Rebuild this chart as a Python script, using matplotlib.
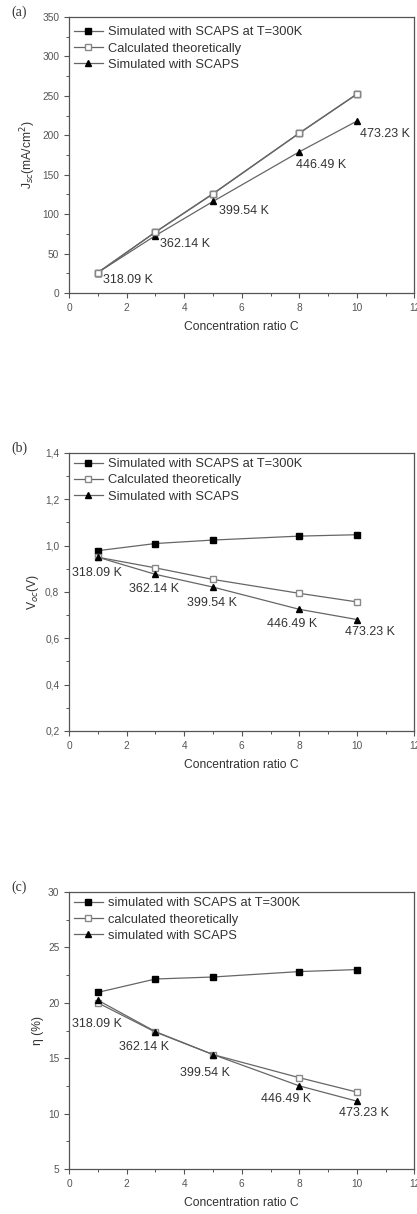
import matplotlib.pyplot as plt
from matplotlib.ticker import MultipleLocator, FuncFormatter

C = [1, 3, 5, 8, 10]
temps = ["318.09 K", "362.14 K", "399.54 K", "446.49 K", "473.23 K"]

jsc_300k = [25.8, 77.0, 125.5, 202.5, 252.0]
jsc_theory = [25.8, 77.3, 126.0, 202.9, 252.4]
jsc_scaps = [25.8, 72.7, 116.0, 179.0, 218.0]

voc_300k = [0.978, 1.009, 1.024, 1.041, 1.047]
voc_theory = [0.950, 0.904, 0.854, 0.794, 0.757]
voc_scaps = [0.950, 0.876, 0.821, 0.725, 0.681]

eta_300k = [20.94, 22.15, 22.33, 22.82, 23.0]
eta_theory = [20.0, 17.36, 15.33, 13.24, 11.94]
eta_scaps = [20.24, 17.4, 15.33, 12.5, 11.12]

# annotation anchor points (data coords, left edge of text)
jsc_text_xy = [(1.17, 16.9), (3.15, 62.6), (5.2, 104), (7.9, 162), (10.12, 202)]
voc_text_xy = [(0.09, 0.882), (2.1, 0.813), (4.1, 0.754), (6.86, 0.663), (9.58, 0.625)]
eta_text_xy = [(0.09, 18.06), (1.74, 16.03), (3.86, 13.7), (6.68, 11.3), (9.38, 10.06)]

plt.rcParams["font.family"] = ["Liberation Sans", "DejaVu Sans"]
ink = "#333333"
line_color = "#666666"

fig = plt.figure(figsize=(4.17, 12.14), dpi=100)
boxes = [
    (0.1655, 0.7587, 0.8285, 0.2273),
    (0.1655, 0.3979, 0.8285, 0.2290),
    (0.1655, 0.0371, 0.8285, 0.2281),
]
legend_tops = [0.985, 1.0, 1.0]

panels = [
    ("(a)", jsc_300k, jsc_theory, jsc_scaps, jsc_text_xy, (0, 350), 50, 25,
     r"J$_{sc}$(mA/cm$^2$)", False,
     ["Simulated with SCAPS at T=300K", "Calculated theoretically", "Simulated with SCAPS"]),
    ("(b)", voc_300k, voc_theory, voc_scaps, voc_text_xy, (0.2, 1.4), 0.2, 0.1,
     r"V$_{oc}$(V)", True,
     ["Simulated with SCAPS at T=300K", "Calculated theoretically", "Simulated with SCAPS"]),
    ("(c)", eta_300k, eta_theory, eta_scaps, eta_text_xy, (5, 30), 5, 2.5,
     r"η (%)", False,
     ["simulated with SCAPS at T=300K", "calculated theoretically", "simulated with SCAPS"]),
]

for box, top, (tag, s300, theory, scaps, text_xy, ylim, major, minor, ylabel, comma, labels) in zip(
        boxes, legend_tops, panels):
    ax = fig.add_axes(box)
    ax.plot(C, s300, "-s", color=line_color, mfc="black", mec="black", ms=4.5, lw=0.9, label=labels[0])
    ax.plot(C, theory, "-s", color=line_color, mfc="white", mec="#888888", ms=4.5, lw=0.9, label=labels[1])
    ax.plot(C, scaps, "-^", color=line_color, mfc="black", mec="black", ms=5, lw=0.9, label=labels[2])
    if tag == "(a)":
        # in (a) the T=300K squares sit under the theoretical ones
        ax.lines[0].set_zorder(1)
        ax.lines[1].set_zorder(3)

    for txt, (tx, ty) in zip(temps, text_xy):
        ax.text(tx, ty, txt, fontsize=9, color=ink, va="center", ha="left")

    ax.set_xlim(0, 12)
    ax.set_ylim(*ylim)
    ax.xaxis.set_major_locator(MultipleLocator(2))
    ax.xaxis.set_minor_locator(MultipleLocator(1))
    ax.yaxis.set_major_locator(MultipleLocator(major))
    ax.yaxis.set_minor_locator(MultipleLocator(minor))
    if comma:
        ax.yaxis.set_major_formatter(FuncFormatter(lambda v, p: f"{v:.1f}".replace(".", ",")))
    ax.tick_params(which="major", direction="out", length=3.5, width=0.8, labelsize=7.3,
                   colors="#555555", labelcolor="#555555")
    ax.tick_params(which="minor", direction="out", length=2, width=0.7, colors="#555555")
    for spine in ax.spines.values():
        spine.set_color("#555555")
        spine.set_linewidth(0.9)

    ax.set_xlabel("Concentration ratio C", fontsize=8.7, color=ink, labelpad=6)
    ax.set_ylabel(ylabel, fontsize=8.7, color=ink, labelpad=3)

    ax.legend(loc="upper left", bbox_to_anchor=(0.0, top), frameon=False, fontsize=9.3,
              handlelength=2.2, handletextpad=0.4, labelspacing=0.33, borderaxespad=0.0,
              labelcolor=ink)

    fig.text(0.028, box[1] + box[3] + 0.004, tag, family="Liberation Serif",
             fontsize=10, color=ink, va="center")

fig.savefig("out.png", dpi=100)
